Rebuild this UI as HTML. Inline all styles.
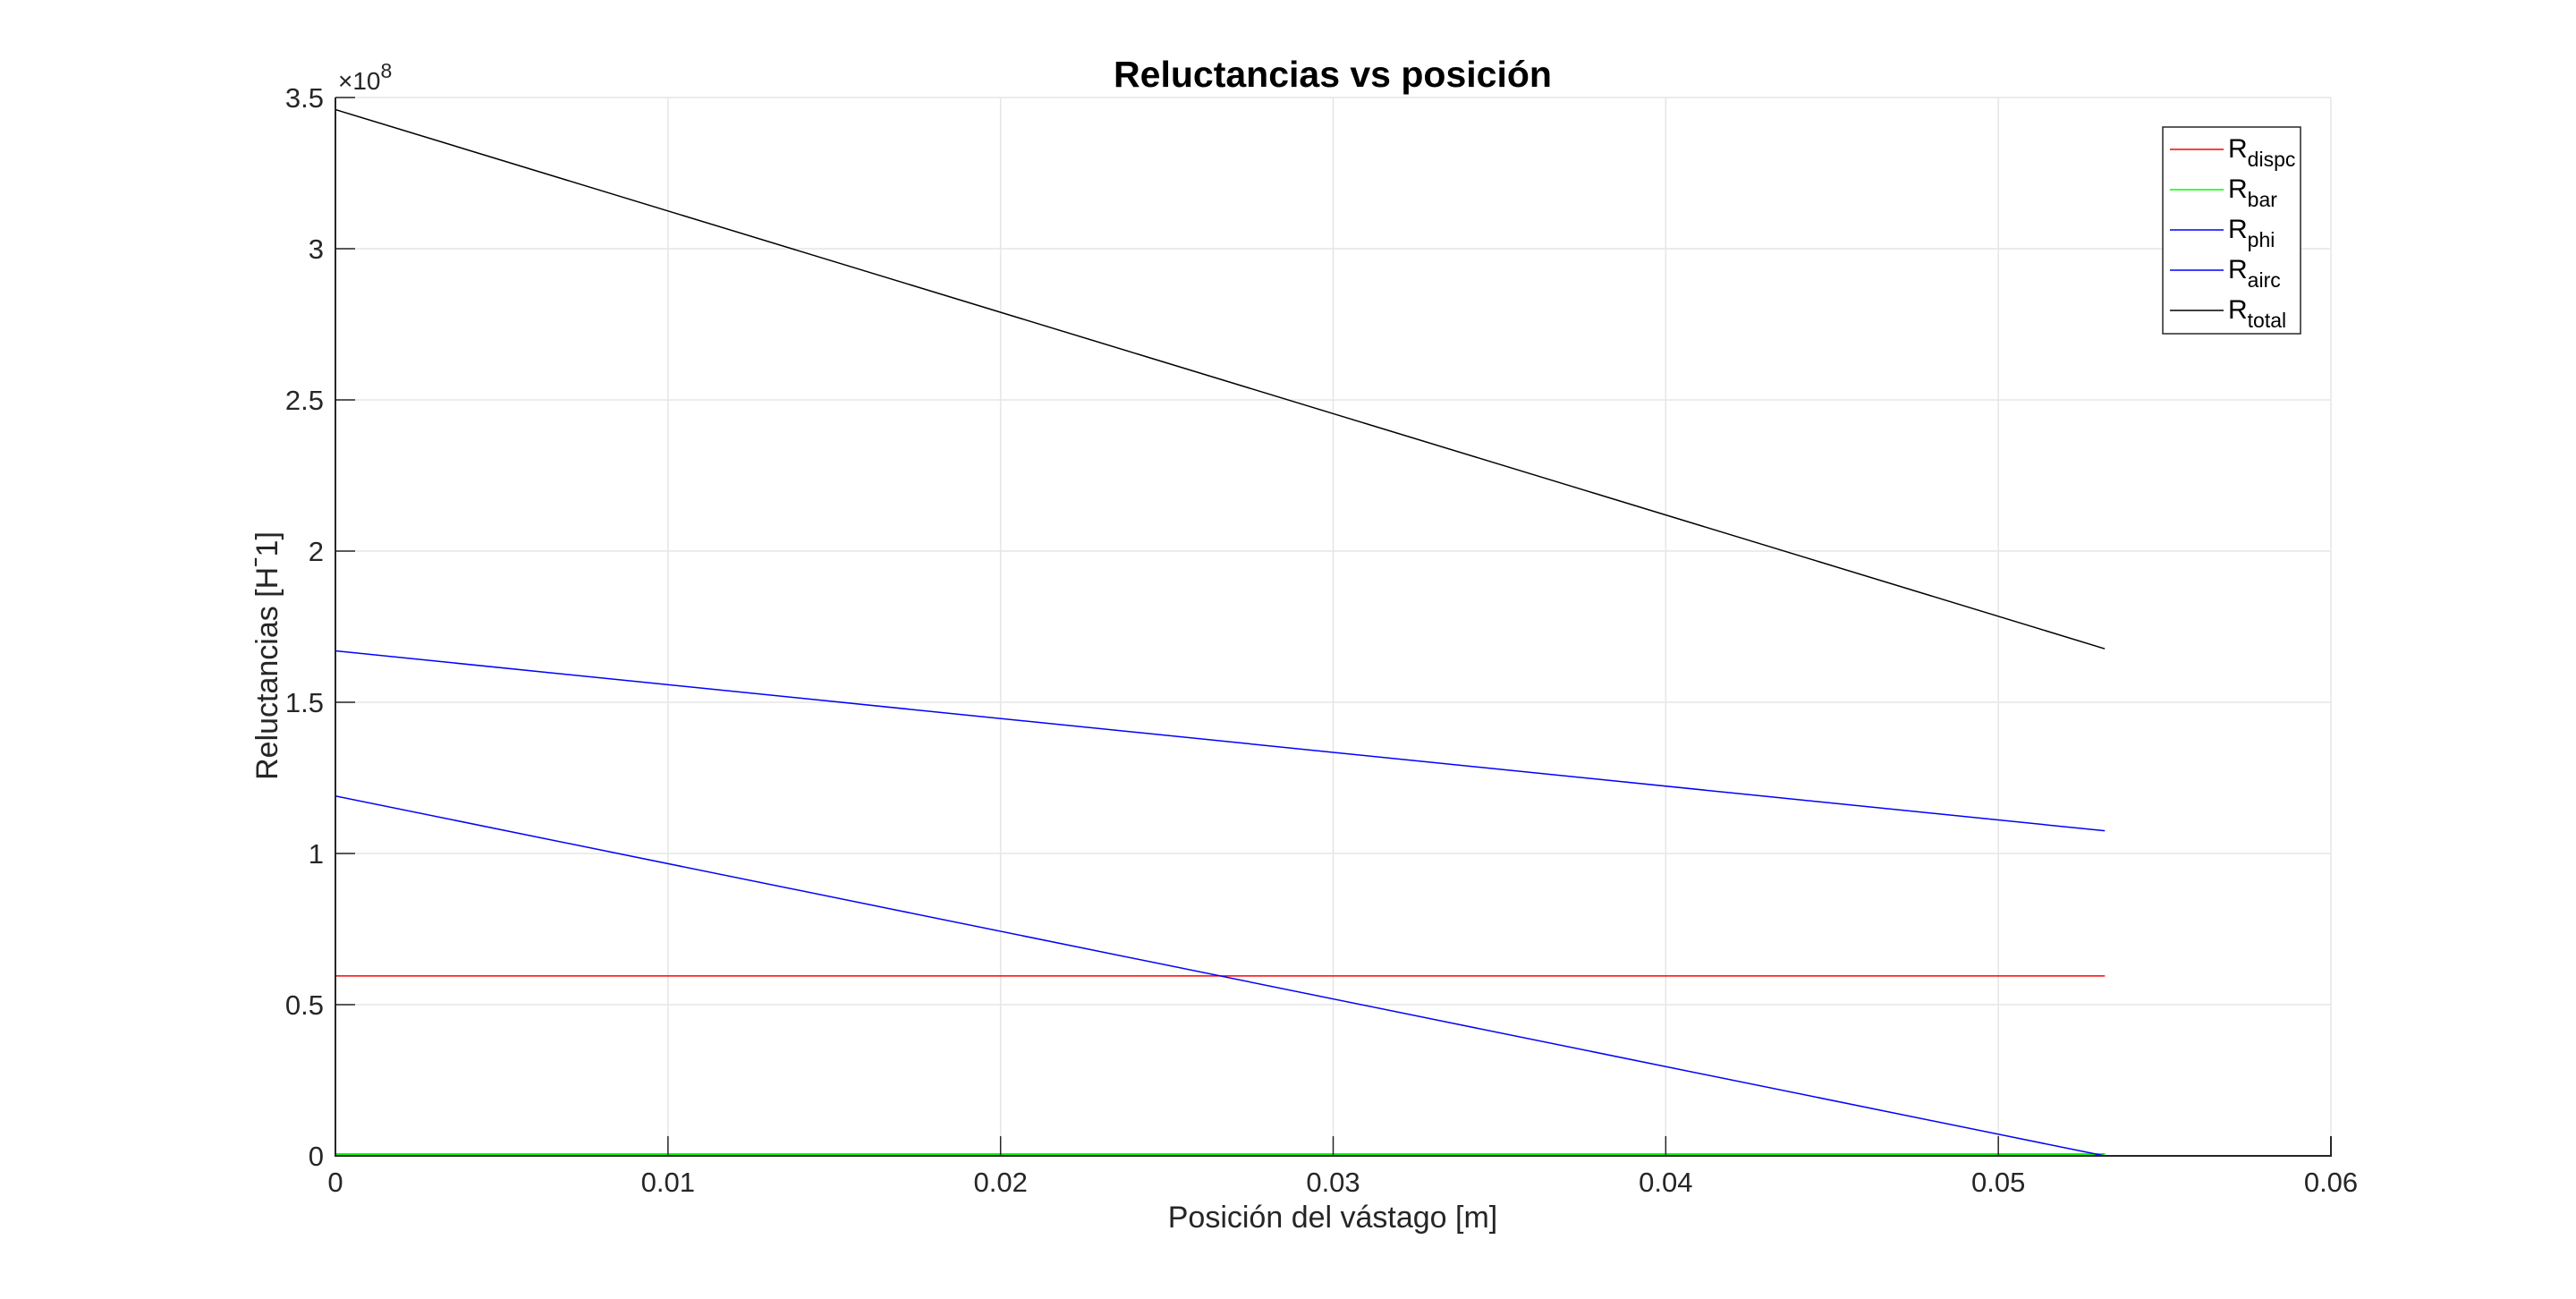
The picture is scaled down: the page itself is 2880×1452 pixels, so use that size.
<!DOCTYPE html>
<html><head><meta charset="utf-8"><style>
html,body{margin:0;padding:0;background:#fff;}
svg{display:block;font-family:"Liberation Sans",sans-serif;}
</style></head><body>
<svg id="chart" width="2880" height="1452" viewBox="0 0 2880 1452" xmlns="http://www.w3.org/2000/svg">
<rect width="2880" height="1452" fill="#fff"/>
<g id="grid"></g>
<g id="series"></g>
<g id="axes"></g>
<text x="1490" y="97" text-anchor="middle" font-size="41" font-weight="bold" fill="#000">Reluctancias vs posición</text>
<text x="1490" y="1372" text-anchor="middle" font-size="34" fill="#262626">Posición del vástago [m]</text>
<text transform="translate(310,733) rotate(-90)" text-anchor="middle" font-size="34" fill="#262626">Reluctancias [H<tspan dy="-2">ˉ</tspan><tspan dy="2">1]</tspan></text>
<text x="378" y="100" font-size="28" fill="#262626">×10<tspan dy="-13" font-size="23">8</tspan></text>
<g id="legend"></g>
</svg>
<script>
const xTicks = [0, 0.01, 0.02, 0.03, 0.04, 0.05, 0.06];
const xTickLabels = ["0", "0.01", "0.02", "0.03", "0.04", "0.05", "0.06"];
const yTicks = [0, 0.5, 1, 1.5, 2, 2.5, 3, 3.5];
const yTickLabels = ["0", "0.5", "1", "1.5", "2", "2.5", "3", "3.5"];
const xPos = [0, 0.0532];
const rDispc = [0.595, 0.595];
const rBar = [0.005, 0.005];
const rPhi = [1.67, 1.075];
const rAirc = [1.19, 0.0];
const rTotal = [3.46, 1.677];
const seriesNames = ["dispc", "bar", "phi", "airc", "total"];
const seriesColors = ["#ff0000", "#00ff00", "#0000ff", "#0000ff", "#000000"];

const NS = "http://www.w3.org/2000/svg";
const L = 375, R = 2606, T = 109, B = 1292;
const xS = v => L + (v - 0) / 0.06 * (R - L);
const yS = v => B - v / 3.5 * (B - T);
function mk(tag, attrs, parent) {
  const e = document.createElementNS(NS, tag);
  for (const k in attrs) e.setAttribute(k, attrs[k]);
  parent.appendChild(e);
  return e;
}
const grid = document.getElementById('grid');
const axes = document.getElementById('axes');
xTicks.forEach((t, i) => {
  const g = mk('line', {x1: xS(t), x2: xS(t), y1: T, y2: B, stroke: '#e6e6e6', 'stroke-width': 1.5}, grid);
  
  
  const tk = mk('line', {x1: xS(t), x2: xS(t), y1: B, y2: B - 22, stroke: '#262626', 'stroke-width': 1.5}, axes);
  
  
  const lb = mk('text', {x: xS(t), y: 1332, 'text-anchor': 'middle', 'font-size': 31, fill: '#262626'}, axes);
  lb.textContent = xTickLabels[i];
  
  
});
yTicks.forEach((t, i) => {
  const g = mk('line', {x1: L, x2: R, y1: yS(t), y2: yS(t), stroke: '#e6e6e6', 'stroke-width': 1.5}, grid);
  
  
  const tk = mk('line', {x1: L, x2: L + 22, y1: yS(t), y2: yS(t), stroke: '#262626', 'stroke-width': 1.5}, axes);
  
  
  const lb = mk('text', {x: 362, y: yS(t) + 11, 'text-anchor': 'end', 'font-size': 31, fill: '#262626'}, axes);
  lb.textContent = yTickLabels[i];
  
  
});
const ax = mk('path', {d: `M${L},${T} L${L},${B} L${R},${B} L${R},${B-22}`, fill: 'none', stroke: '#262626', 'stroke-width': 2}, axes);



const seriesG = document.getElementById('series');
const allSeries = [rDispc, rBar, rPhi, rAirc, rTotal];
allSeries.forEach((vals, s) => {
  const pts = vals.map((v, i) => xS(xPos[i]) + ',' + yS(v)).join(' ');
  const pl = mk('polyline', {points: pts, fill: 'none', stroke: seriesColors[s], 'stroke-width': s === 1 ? 2.5 : 1.5}, seriesG);
  
  
});

const leg = document.getElementById('legend');
const box = mk('rect', {x: 2418, y: 142, width: 154, height: 231, fill: '#fff', stroke: '#262626', 'stroke-width': 1.5}, leg);


seriesNames.forEach((n, i) => {
  const y = 167 + i * 45;
  const ln = mk('line', {x1: 2426, x2: 2486, y1: y, y2: y, stroke: seriesColors[i], 'stroke-width': 1.5}, leg);
  
  
  const tx = mk('text', {x: 2491, y: y + 9, 'font-size': 30, fill: '#000'}, leg);
  
  
  tx.textContent = 'R';
  const sub = mk('tspan', {dy: 10, 'font-size': 23}, tx);
  sub.textContent = n;
});
</script>
</body></html>
